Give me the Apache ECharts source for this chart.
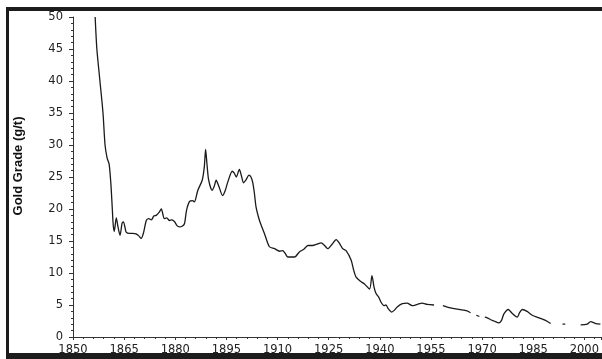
<!DOCTYPE html>
<html>
<head>
<meta charset="utf-8">
<script src="https://cdn.jsdelivr.net/npm/echarts@6/dist/echarts.min.js"></script>
<style>
  html, body { margin: 0; padding: 0; background: #fff; }
  #chart { width: 602px; height: 359px; }
</style>
</head>
<body>
<div id="chart"></div>
<script>
// Ore grade history: year and average gold grade (g/t); null marks a break in the record
const years = [
  1856.5, 1857.0, 1857.9, 1858.8, 1859.4, 1860.0, 1860.6, 1861.1, 1861.5, 1861.8,
  1862.1, 1862.7, 1863.2, 1863.8, 1864.4, 1864.8, 1865.3, 1865.6, 1866.5, 1867.5,
  1868.5, 1869.3, 1870.0, 1870.7, 1871.5, 1872.2, 1873.0, 1873.7, 1874.4, 1875.3,
  1875.9, 1876.8, 1877.5, 1878.3, 1879.0, 1879.8, 1880.5, 1881.2, 1882.0, 1882.7,
  1883.3, 1884.2, 1885.1, 1885.6, 1886.6, 1887.9, 1888.5, 1888.9, 1889.3, 1889.8,
  1890.8, 1891.4, 1892.0, 1892.8, 1893.9, 1894.6, 1895.4, 1896.7, 1897.3, 1897.9,
  1898.8, 1899.4, 1900.0, 1900.8, 1901.6, 1902.2, 1902.7, 1903.2, 1903.7, 1904.7,
  1905.4, 1906.2, 1907.6, 1909.1, 1910.6, 1911.5, 1912.2, 1913.0, 1915.0, 1916.4,
  1917.7, 1918.9, 1920.3, 1921.5, 1922.8, 1923.8, 1924.7, 1926.0, 1927.2, 1928.2,
  1929.1, 1930.1, 1931.6, 1932.3, 1933.0, 1934.3, 1935.5, 1937.0, 1937.7, 1938.3,
  1938.9, 1939.7, 1940.4, 1941.2, 1941.8, 1942.5, 1943.5, 1944.3, 1945.1, 1946.6,
  1948.0, 1949.5, 1951.0, 1952.4, 1953.9, 1955.9, 1957.0, 1958.5, 1960.3, 1963.2,
  1965.6, 1966.6, 1967.5, 1968.3, 1969.2, 1970.0, 1970.8, 1971.5, 1972.5, 1973.5,
  1974.9, 1975.7, 1976.4, 1977.7, 1978.8, 1980.3, 1981.0, 1981.8, 1983.2, 1984.7,
  1986.7, 1988.6, 1990.1, 1992.0, 1993.6, 1994.4, 1996.5, 1998.9, 2000.8, 2001.8,
  2003.3, 2004.7
];
const grades = [
  50.0, 45.0, 40.0, 35.0, 30.0, 28.0, 27.0, 24.0, 20.3, 17.5,
  16.5, 18.6, 17.2, 15.9, 17.8, 18.0, 17.0, 16.4, 16.2, 16.2,
  16.1, 15.8, 15.4, 16.3, 18.2, 18.5, 18.3, 18.9, 19.0, 19.5,
  20.0, 18.5, 18.6, 18.2, 18.3, 18.0, 17.4, 17.2, 17.3, 17.7,
  19.8, 21.2, 21.3, 21.1, 22.9, 24.5, 26.5, 29.3, 27.0, 24.5,
  22.9, 23.5, 24.5, 23.5, 22.1, 22.8, 24.2, 25.9, 25.6, 25.0,
  26.2, 25.2, 24.1, 24.6, 25.3, 25.0, 24.2, 22.5, 20.3, 18.2,
  17.2, 16.1, 14.1, 13.8, 13.4, 13.5, 13.1, 12.5, 12.5, 13.3,
  13.7, 14.3, 14.3, 14.5, 14.7, 14.3, 13.8, 14.5, 15.2, 14.6,
  13.8, 13.5, 12.0, 10.5, 9.4, 8.7, 8.3, 7.5, 9.6, 7.8,
  6.8, 6.2, 5.4, 4.9, 5.0, 4.4, 3.9, 4.2, 4.7, 5.2,
  5.3, 4.9, 5.1, 5.3, 5.1, 5.0, null, 4.9, 4.6, 4.3,
  4.1, 3.8, null, 3.4, 3.2, null, 3.1, 3.0, 2.7, 2.5,
  2.2, 2.6, 3.6, 4.3, 3.7, 3.1, 3.8, 4.3, 4.0, 3.4,
  3.0, 2.6, 2.1, null, 2.0, 2.0, null, 1.9, 2.0, 2.4,
  2.1, 2.0
];

const seriesData = years.map((y, i) => [y, grades[i] === null ? '-' : grades[i]]);

const chart = echarts.init(document.getElementById('chart'), null, { renderer: 'canvas' });
const axisColor = '#333';
const labelFont = { fontFamily: 'DejaVu Sans', fontSize: 11.5, color: '#222' };

chart.setOption({
  animation: false,
  backgroundColor: '#fff',
  grid: { left: 73, right: 0, top: 17, bottom: 22, containLabel: false },
  xAxis: {
    type: 'value',
    min: 1850,
    max: 2005,
    interval: 15,
    axisLine: { show: true, lineStyle: { color: axisColor, width: 1 } },
    axisTick: { show: true, length: 3, lineStyle: { color: axisColor } },
    minorTick: { show: true, splitNumber: 5, length: 2, lineStyle: { color: axisColor } },
    splitLine: { show: false },
    axisLabel: { ...labelFont, margin: 7, showMaxLabel: false, formatter: v => String(v) }
  },
  yAxis: {
    type: 'value',
    min: 0,
    max: 50,
    interval: 5,
    name: 'Gold Grade (g/t)',
    nameLocation: 'middle',
    nameGap: 48,
    nameRotate: 90,
    nameTextStyle: {
      fontFamily: 'Liberation Sans Narrow, Arial Narrow, Liberation Sans, sans-serif',
      fontWeight: 'bold',
      fontSize: 13,
      color: '#111',
      padding: [0, 0, 0, 22]
    },
    axisLine: { show: true, lineStyle: { color: axisColor, width: 1 } },
    axisTick: { show: true, length: 4, lineStyle: { color: axisColor } },
    minorTick: { show: true, splitNumber: 5, length: 2, lineStyle: { color: axisColor } },
    splitLine: { show: false },
    axisLabel: { ...labelFont, margin: 10 }
  },
  graphic: [
    // frame around the figure
    { type: 'rect', shape: { x: 6, y: 7, width: 596, height: 4 }, style: { fill: '#1c1c1c' }, z: 100 },
    { type: 'rect', shape: { x: 6, y: 7, width: 3, height: 352 }, style: { fill: '#1c1c1c' }, z: 100 },
    { type: 'rect', shape: { x: 6, y: 353, width: 596, height: 6 }, style: { fill: '#1c1c1c' }, z: 100 }
  ],
  series: [{
    type: 'line',
    data: seriesData,
    showSymbol: false,
    connectNulls: false,
    smooth: 0.25,
    lineStyle: { color: '#1a1a1a', width: 1.3 }
  }]
});
</script>
</body>
</html>
